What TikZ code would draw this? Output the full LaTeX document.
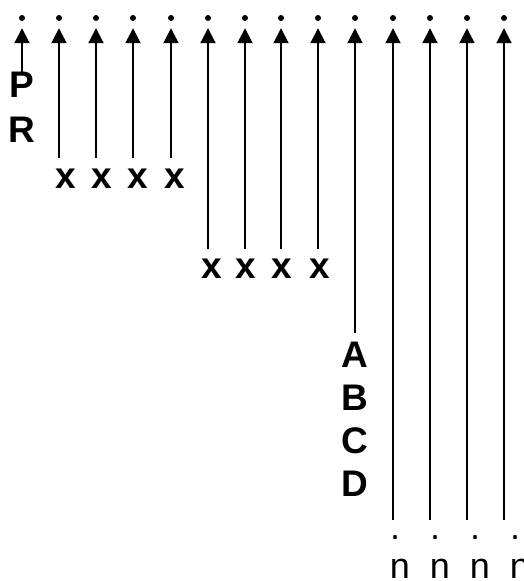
\documentclass[tikz,border=0pt]{standalone}
\usepackage{fontspec}
\setmainfont{Liberation Sans}
\usetikzlibrary{arrows.meta}

\tikzset{
	lbl/.style={font=\fontsize{37}{40}\selectfont\bfseries, inner sep=0pt, anchor=base},
	plainlbl/.style={font=\fontsize{36}{40}\selectfont, inner sep=0pt, anchor=base},
	wire/.style={line width=2pt, -{Triangle[length=15pt,width=15pt]}, shorten >=7pt},
	dot/.style={circle, fill, inner sep=0pt, minimum size=6pt}
}

\begin{document}
\begin{tikzpicture}[x=1pt,y=-1pt]
\useasboundingbox (0,0) rectangle (523,581);
% columns: number / position / lower end
\foreach \c/\x/\y in {1/22/75, 2/59/158, 3/96/158, 4/133/158, 5/171/158,
		6/208/249, 7/245/249, 8/281/249, 9/318/249, 10/355/333,
		11/393/520, 12/430/520, 13/467/520, 14/504/520}{
	\node[dot] (t\c) at (\x,18) {};
	\coordinate (b\c) at (\x,\y);
	\draw[wire] (b\c) -- (t\c);
}

\node[lbl] (p) at (22,97) {P};
\node[lbl] (r) at (22,142) {R};

\foreach \i/\x in {1/66,2/102,3/138,4/175}
	\node[lbl] (xa\i) at (\x,188) {x};
\foreach \i/\x in {1/212,2/246,3/282,4/320}
	\node[lbl] (xb\i) at (\x,278) {x};

\node[lbl] (a) at (355,367) {A};
\node[lbl] (b) at (355,410) {B};
\node[lbl] (c) at (355,453) {C};
\node[lbl] (d) at (355,496) {D};

\foreach \i/\x in {1/395,2/435,3/475,4/515}{
	\node[plainlbl] (pt\i) at (\x,539) {.};
	\node[plainlbl] (n\i) at (\x+5,578) {n};
}
\end{tikzpicture}
\end{document}
